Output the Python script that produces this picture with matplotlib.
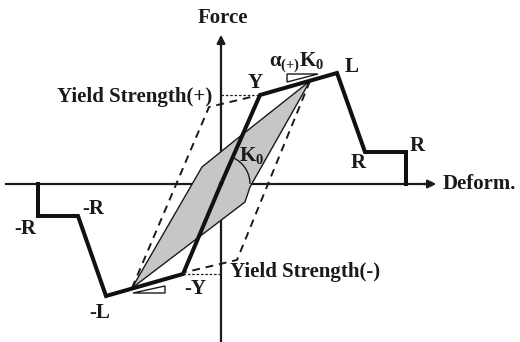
import matplotlib
matplotlib.use("Agg")
import matplotlib.pyplot as plt
from matplotlib.patches import Polygon, Arc

plt.rcParams['mathtext.fontset'] = 'custom'
plt.rcParams['mathtext.rm'] = 'Liberation Serif:bold'
plt.rcParams['mathtext.it'] = 'Liberation Serif:bold'
plt.rcParams['mathtext.bf'] = 'Liberation Serif:bold'

# backbone (deformation, force)
pos_x = [0, 39, 116, 144, 185, 185]
pos_y = [0, 89, 111, 32, 32, 0]
neg_x = [0, -38, -115, -143, -183, -183]
neg_y = [0, -90, -112, -32, -32, 0]

# hysteresis loop (shaded)
loop_x = [89, 17, -19, -89, 24, 29]
loop_y = [103, 46, 17, -104, -18, -3]

# dashed envelopes
dashL_x = [-89, -12, 30]
dashL_y = [-104, 77, 87]
dashR_x = [89, 16, -35]
dashR_y = [103, -76, -88]

# yield levels (dotted)
yld_pos = 89
yld_neg = -90

FONT = dict(family='Liberation Serif', fontweight='bold', color='#1a1a1a')

fig = plt.figure(figsize=(5.2, 3.42), dpi=100)
ax = fig.add_axes([0, 0, 1, 1])
ax.set_xlim(-221, 299)
ax.set_ylim(-158, 184)
ax.axis('off')

# axes
ax.plot([-215, 210], [0, 0], color='#1a1a1a', lw=1.6)
ax.annotate('', xy=(218, 0), xytext=(200, 0),
            arrowprops=dict(arrowstyle='-|>', color='#1a1a1a', lw=1.6, mutation_scale=12))
ax.plot([0, 0], [-160, 140], color='#1a1a1a', lw=1.6)
ax.annotate('', xy=(0, 152), xytext=(0, 135),
            arrowprops=dict(arrowstyle='-|>', color='#1a1a1a', lw=1.6, mutation_scale=12))

# shaded loop
ax.add_patch(Polygon(list(zip(loop_x, loop_y)), closed=True, facecolor='#c6c6c6',
                     edgecolor='#1a1a1a', lw=1.0, zorder=2))

# dashed
ax.plot(dashL_x, dashL_y, color='#1a1a1a', lw=1.4, ls=(0, (4, 3)), zorder=3)
ax.plot(dashR_x, dashR_y, color='#1a1a1a', lw=1.4, ls=(0, (4, 3)), zorder=3)

# dotted yield lines
ax.plot([0, pos_x[1]], [yld_pos, yld_pos], color='#1a1a1a', lw=0.9, ls=(0, (2, 1.5)), zorder=3)
ax.plot([neg_x[1], 0], [yld_neg, yld_neg], color='#1a1a1a', lw=0.9, ls=(0, (2, 1.5)), zorder=3)

# backbone
ax.plot(pos_x, pos_y, color='#111111', lw=2.9, solid_joinstyle='miter', zorder=4)
ax.plot(neg_x, neg_y, color='#111111', lw=2.9, solid_joinstyle='miter', zorder=4)

# slope triangles
ax.add_patch(Polygon([(66, 110), (97, 110), (66, 102)], closed=True, fill=False,
                     edgecolor='#1a1a1a', lw=1.0, zorder=3))
ax.add_patch(Polygon([(-88, -109), (-56, -109), (-56, -102)], closed=True, fill=False,
                     edgecolor='#1a1a1a', lw=1.0, zorder=3))

# K0 arc
ax.add_patch(Arc((0, 0), 58, 58, theta1=0, theta2=66, color='#1a1a1a', lw=1.0, zorder=5))

# labels
fs = 15
ax.text(2, 166, 'Force', ha='center', va='center', fontsize=fs, **FONT)
ax.text(222, 0, 'Deform.', ha='left', va='center', fontsize=fs, **FONT)
ax.text(76, 122, r'$\alpha_{(+)}\mathrm{K}_0$', ha='center', va='center', fontsize=fs, **FONT)
ax.text(131, 117, 'L', ha='center', va='center', fontsize=fs, **FONT)
ax.text(34, 101, 'Y', ha='center', va='center', fontsize=fs, **FONT)
ax.text(-9, 87, 'Yield Strength(+)', ha='right', va='center', fontsize=fs, **FONT)
ax.text(137, 21, 'R', ha='center', va='center', fontsize=fs, **FONT)
ax.text(196, 38, 'R', ha='center', va='center', fontsize=fs, **FONT)
ax.text(31, 28, r'$\mathrm{K}_0$', ha='center', va='center', fontsize=fs, **FONT)
ax.text(-196, -45, '-R', ha='center', va='center', fontsize=fs, **FONT)
ax.text(-128, -25, '-R', ha='center', va='center', fontsize=fs, **FONT)
ax.text(-121, -129, '-L', ha='center', va='center', fontsize=fs, **FONT)
ax.text(-26, -105, '-Y', ha='center', va='center', fontsize=fs, **FONT)
ax.text(9, -88, 'Yield Strength(-)', ha='left', va='center', fontsize=fs, **FONT)

fig.savefig('out.png', dpi=100)
